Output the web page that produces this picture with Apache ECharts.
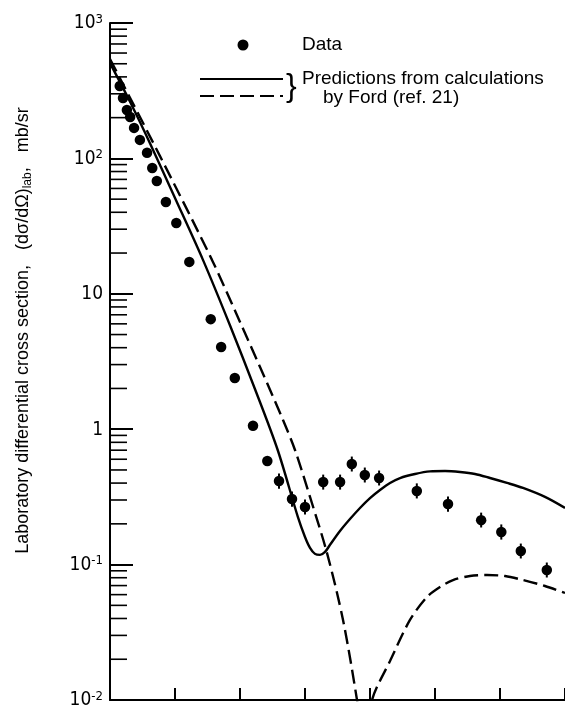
<!DOCTYPE html>
<html>
<head>
<meta charset="utf-8">
<script src="https://cdn.jsdelivr.net/npm/echarts@6/dist/echarts.min.js"></script>
<style>
  html, body { margin: 0; padding: 0; background: #fff; }
  #chart { width: 565px; height: 714px; }
</style>
</head>
<body>
<div id="chart"></div>
<script>
// Measured angular distribution (lab angle, deg) and cross section (mb/sr)
const dataAngle = [1.5, 2.0, 2.6, 3.1, 3.7, 4.6, 5.7, 6.5, 7.2, 8.6, 10.2, 12.2, 15.5, 17.1, 19.2,
  22.0, 24.2, 26.0, 28.0, 30.0, 32.8, 35.4, 37.2, 39.2, 41.4, 47.2, 52.0, 57.1, 60.2, 63.2, 67.2];
const dataValue = [343, 279, 228, 202, 168, 137, 110, 85, 68, 47.6, 33.3, 17.2, 6.5, 4.05, 2.39,
  1.06, 0.582, 0.414, 0.305, 0.266, 0.407, 0.407, 0.553, 0.459, 0.436, 0.350, 0.280, 0.213, 0.174, 0.126, 0.0912];
// Error bar limits (null where the bar is hidden by the symbol)
const errLow = [null, null, null, null, null, null, null, null, null, null, null, null, null, null, null,
  null, null, 0.364, 0.268, 0.234, 0.358, 0.358, 0.487, 0.404, 0.384, 0.308, 0.246, 0.188, 0.153, 0.111, 0.0803];
const errHigh = [null, null, null, null, null, null, null, null, null, null, null, null, null, null, null,
  null, null, 0.470, 0.346, 0.302, 0.462, 0.462, 0.628, 0.521, 0.495, 0.398, 0.318, 0.242, 0.198, 0.143, 0.1036];

// Calculated curves (Ford)
const solidAngle = [0, 3.1, 6.2, 10.0, 14.3, 18.5, 22.3, 25.8, 28.9, 30.0, 30.77, 31.54, 32.31, 33.08,
  33.85, 35.38, 36.92, 38.46, 40.0, 41.54, 43.08, 44.62, 46.92, 49.23, 51.54, 53.85, 56.15, 58.46,
  61.08, 63.54, 66.92, 70];
const solidValue = [505, 261, 128, 51, 17.8, 5.78, 1.98, 0.702, 0.225, 0.160, 0.133, 0.120, 0.118, 0.124,
  0.140, 0.177, 0.217, 0.262, 0.310, 0.356, 0.401, 0.436, 0.467, 0.488, 0.491, 0.483, 0.467, 0.436,
  0.401, 0.368, 0.316, 0.262];
const dashedAngle = [0, 7.69, 15.69, 20.0, 23.08, 26.62, 28.46, 30.77, 33.38, 35.85, 38.0, 39.15,
  40.31, 43.08, 46.15, 48.77, 50.77, 52.77, 55.38, 58.0, 60.77, 63.54, 66.92, 70];
const dashedValue = [542, 104, 17.8, 6.19, 2.88, 1.17, 0.702, 0.316, 0.122, 0.039, 0.010, 0.004,
  0.010, 0.0194, 0.0390, 0.0577, 0.0684, 0.0769, 0.0824, 0.0838, 0.0824, 0.0769, 0.0695, 0.0617];

// Axis settings
const xMin = 0, xMax = 70, xStep = 10;
const yMin = 0.01, yMax = 1000;
const yDecadeLabels = {
  '-2': '{b|10}{s|-2}', '-1': '{b|10}{s|-1}', '0': '{b|1}', '1': '{b|10}',
  '2': '{b|10}{s|2}', '3': '{b|10}{s|3}'
};
const minorMantissas = [2, 3, 4, 5, 6, 7, 8, 9];
const decadeExponents = [-2, -1, 0, 1, 2];

const FONT = "'Liberation Sans Narrow', 'DejaVu Sans Condensed', 'Liberation Sans', sans-serif";
const TEXT_FONT = "'Liberation Sans', 'DejaVu Sans', sans-serif";

const minorTicks = [];
decadeExponents.forEach(e => minorMantissas.forEach(m => minorTicks.push([xMin, m * Math.pow(10, e)])));

const points = dataAngle.map((a, i) => [a, dataValue[i]]);
const bars = [];
dataAngle.forEach((a, i) => { if (errLow[i] != null) bars.push([a, errLow[i], errHigh[i]]); });

const chart = echarts.init(document.getElementById('chart'), null, { renderer: 'canvas' });

chart.setOption({
  animation: false,
  backgroundColor: '#fff',
  grid: { left: 110, right: 0, top: 23, bottom: 14, containLabel: false },
  xAxis: {
    type: 'value', min: xMin, max: xMax, interval: xStep,
    axisLine: { lineStyle: { color: '#000', width: 2 } },
    axisTick: { inside: true, length: 12, lineStyle: { color: '#000', width: 2 } },
    axisLabel: { show: false },
    splitLine: { show: false }
  },
  yAxis: {
    type: 'log', logBase: 10, min: yMin, max: yMax,
    name: '{t|Laboratory differential cross section,   (dσ/dΩ)}{u|lab}{t|,   mb/sr}',
    nameLocation: 'middle', nameGap: 76, nameRotate: 90,
    nameTextStyle: {
      padding: [0, 0, 0, 62],
      rich: {
        t: { fontFamily: TEXT_FONT, fontSize: 18, color: '#000', verticalAlign: 'middle' },
        u: { fontFamily: TEXT_FONT, fontSize: 12, color: '#000', padding: [9, 0, 0, 0] }
      }
    },
    axisLine: { lineStyle: { color: '#000', width: 2 } },
    axisTick: { inside: true, length: 23, lineStyle: { color: '#000', width: 2 } },
    splitLine: { show: false },
    axisLabel: {
      margin: 7,
      formatter: v => yDecadeLabels[String(Math.round(Math.log10(v)))] || '',
      rich: {
        b: { fontFamily: FONT, fontSize: 19, color: '#000', lineHeight: 20, verticalAlign: 'bottom' },
        s: { fontFamily: FONT, fontSize: 13, color: '#000', lineHeight: 13, verticalAlign: 'top' }
      }
    }
  },
  series: [
    {
      name: 'minor ticks', type: 'custom', silent: true, data: minorTicks,
      renderItem: (params, api) => {
        const p = api.coord([api.value(0), api.value(1)]);
        return { type: 'line', shape: { x1: p[0], y1: p[1], x2: p[0] + 17, y2: p[1] },
          style: { stroke: '#000', lineWidth: 1.6 } };
      },
      z: 1
    },
    {
      name: 'Predictions (solid)', type: 'line', data: solidAngle.map((a, i) => [a, solidValue[i]]),
      showSymbol: false, smooth: 0.3, clip: true,
      lineStyle: { color: '#000', width: 2.4 }, z: 2
    },
    {
      name: 'Predictions (dashed)', type: 'line', data: dashedAngle.map((a, i) => [a, dashedValue[i]]),
      showSymbol: false, smooth: 0.3, clip: true,
      lineStyle: { color: '#000', width: 2.4, type: [14, 6] }, z: 2
    },
    {
      name: 'Error bars', type: 'custom', data: bars, silent: true,
      renderItem: (params, api) => {
        const lo = api.coord([api.value(0), api.value(1)]);
        const hi = api.coord([api.value(0), api.value(2)]);
        return { type: 'line', shape: { x1: lo[0], y1: lo[1], x2: hi[0], y2: hi[1] },
          style: { stroke: '#000', lineWidth: 2 } };
      },
      encode: { x: 0, y: [1, 2] }, z: 3
    },
    {
      name: 'Data', type: 'scatter', data: points, symbol: 'circle', symbolSize: 10.5,
      itemStyle: { color: '#000', opacity: 1 }, z: 4
    }
  ],
  graphic: [
    { type: 'circle', shape: { cx: 243, cy: 45, r: 5.5 }, style: { fill: '#000' } },
    { type: 'text', x: 302, y: 45, style: { text: 'Data', font: '19px ' + TEXT_FONT, fill: '#000', verticalAlign: 'middle' } },
    { type: 'line', shape: { x1: 200, y1: 79, x2: 283, y2: 79 }, style: { stroke: '#000', lineWidth: 2.2 } },
    { type: 'line', shape: { x1: 200, y1: 96, x2: 283, y2: 96 }, style: { stroke: '#000', lineWidth: 2.2, lineDash: [14, 6] } },
    { type: 'text', x: 286, y: 87, style: { text: '}', font: '32px ' + TEXT_FONT, fill: '#000', verticalAlign: 'middle' } },
    { type: 'text', x: 302, y: 79, style: { text: 'Predictions from calculations', font: '19px ' + TEXT_FONT, fill: '#000', verticalAlign: 'middle' } },
    { type: 'text', x: 323, y: 98, style: { text: 'by Ford (ref. 21)', font: '19px ' + TEXT_FONT, fill: '#000', verticalAlign: 'middle' } }
  ]
});
</script>
</body>
</html>
